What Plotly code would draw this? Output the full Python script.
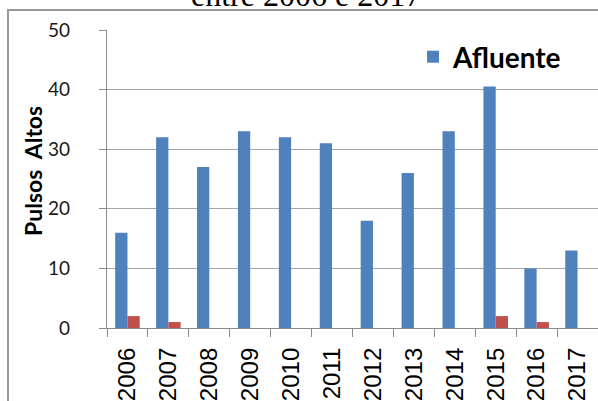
import plotly.graph_objects as go

# Annual counts of high pulses
years = ["2006", "2007", "2008", "2009", "2010", "2011",
         "2012", "2013", "2014", "2015", "2016", "2017"]
afluente = [16, 32, 27, 33, 32, 31, 18, 26, 33, 40.5, 10, 13]
efluente = [2, 1, 0, 0, 0, 0, 0, 0, 0, 2, 1, 0]

y_ticks = [0, 10, 20, 30, 40, 50]

BLUE = "#4F81BD"
RED = "#C0504D"
GRID = "#A6A6A6"
AXIS = "#8C8C8C"

W, H = 598, 401
ML, MR, MT, MB = 107, 0, 30, 73
PW, PH = W - ML - MR, H - MT - MB


def px_x(px):
    return (px - ML) / PW


def px_y(py):
    return (H - MB - py) / PH


fig = go.Figure()
fig.add_trace(go.Bar(x=years, y=afluente, name="Afluente",
                     marker=dict(color=BLUE, line=dict(width=0))))
fig.add_trace(go.Bar(x=years, y=efluente, name="Efluente", showlegend=False,
                     marker=dict(color=RED, line=dict(width=0))))

fig.update_layout(
    width=W, height=H,
    margin=dict(l=ML, r=MR, t=MT, b=MB, pad=0),
    paper_bgcolor="white", plot_bgcolor="white",
    barmode="group", bargap=0.4, bargroupgap=0,
    showlegend=True,
    legend=dict(x=px_x(413), y=px_y(57), xanchor="left", yanchor="middle",
                bgcolor="rgba(0,0,0,0)", borderwidth=0,
                font=dict(family="Lato", size=28, color="black", weight="bold"),
                itemsizing="constant"),
    font=dict(family="Lato"),
)

fig.update_xaxes(
    type="category", tickson="boundaries",
    ticks="outside", ticklen=8, tickcolor=AXIS, tickwidth=1.3,
    showline=True, linecolor=AXIS, linewidth=1.3,
    showgrid=False, tickangle=-90, ticklabelstandoff=9,
    tickfont=dict(family="Liberation Sans", size=24, color="black"),
)

fig.update_yaxes(
    range=[0, 50], tickvals=y_ticks,
    ticks="outside", ticklen=7, tickcolor=AXIS, tickwidth=1.3,
    showline=True, linecolor=AXIS, linewidth=1.3,
    showgrid=True, gridcolor=GRID, gridwidth=1.3, zeroline=False,
    tickfont=dict(family="Lato", size=19, color="#1a1a1a"),
    ticklabelstandoff=25,
)

# y-axis caption
fig.add_annotation(text="<b>Pulsos\u00a0\u00a0Altos</b>", xref="paper", yref="paper",
                   x=px_x(33), y=px_y(171), xanchor="center", yanchor="middle",
                   textangle=-90, showarrow=False,
                   font=dict(family="Lato", size=23, color="black"))

# white patch behind the legend, hiding the top gridline
fig.add_shape(type="rect", layer="between", xref="paper", yref="paper",
              x0=px_x(337), x1=px_x(520), y0=px_y(40), y1=px_y(20),
              fillcolor="white", line=dict(width=0))

# frame around the chart
fig.add_shape(type="rect", layer="above", xref="paper", yref="paper",
              x0=px_x(8), x1=px_x(W + 20), y0=px_y(H + 20), y1=px_y(10),
              fillcolor="rgba(0,0,0,0)", line=dict(color="#999999", width=2))

# heading text above the frame
fig.add_annotation(text="entre 2006 e 2017", xref="paper", yref="paper",
                   x=px_x(306), y=px_y(-5), xanchor="center", yanchor="middle",
                   showarrow=False,
                   font=dict(family="Liberation Serif", size=32, color="black"))

fig.write_html("out.html")
